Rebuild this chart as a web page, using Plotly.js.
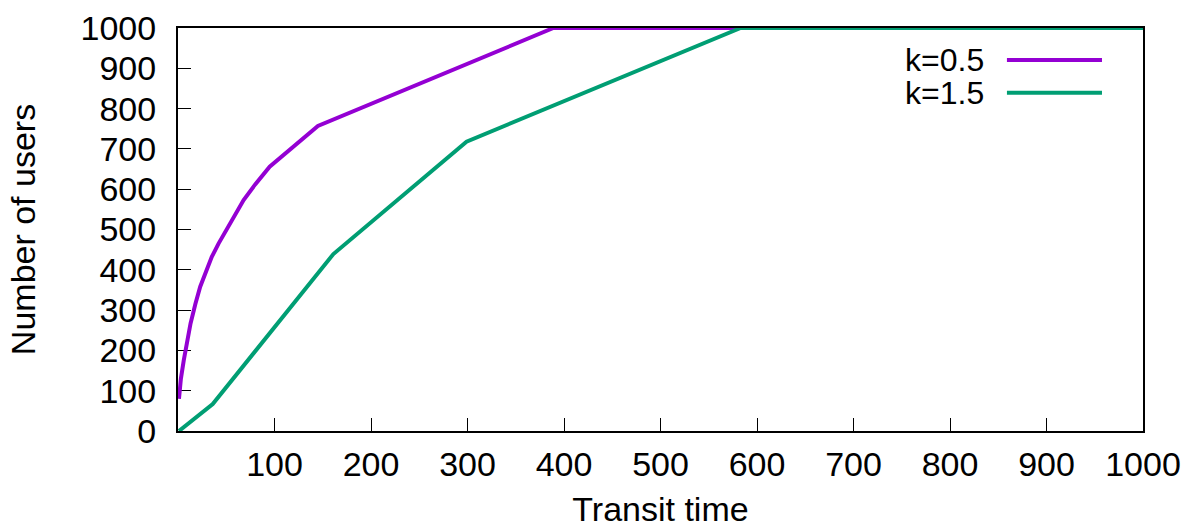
<!DOCTYPE html>
<html>
<head>
<meta charset="utf-8">
<script src="https://cdn.plot.ly/plotly-3.0.1.min.js"></script>
<style>html,body{margin:0;padding:0;background:#fff;}#chart{width:1187px;height:528px;}</style>
</head>
<body>
<div id="chart"></div>
<script>
// Data
const seriesNames = ["k=0.5", "k=1.5"];
const seriesColors = ["#9400D3", "#009E73"];
const k05_x = [1, 3, 6, 9, 13, 18, 23, 29, 35, 42, 49, 58, 68, 80, 95, 145, 389, 1000];
const k05_y = [80, 130, 176, 220, 267, 315, 358, 395, 432, 465, 495, 535, 573, 612, 656, 757, 1000, 1000];
const k15_x = [1, 36, 161, 299, 583, 1000];
const k15_y = [0, 67, 439, 718, 1000, 1000];
const xTicks = [100, 200, 300, 400, 500, 600, 700, 800, 900, 1000];
const yTicks = [0, 100, 200, 300, 400, 500, 600, 700, 800, 900, 1000];

const FONT = "Liberation Sans, Arial, sans-serif";
const FS = 34;
const xs = [k05_x, k15_x], ys = [k05_y, k15_y];

const traces = seriesNames.map((n, i) => ({
  x: xs[i], y: ys[i], name: n, type: "scatter", mode: "lines",
  line: {color: seriesColors[i], width: 4},
  showlegend: false
}));

// gnuplot-style legend: text to the left of the line sample
const legTextX = 0.836, legLineX0 = 0.859, legLineX1 = 0.9575;
const legY = [0.9206, 0.8395];
const annotations = seriesNames.map((n, i) => ({
  xref: "paper", yref: "paper", x: legTextX, y: legY[i],
  xanchor: "right", yanchor: "middle", text: n, showarrow: false,
  borderpad: 0,
  font: {family: FONT, size: 32, color: "#000"}
}));
const shapes = seriesNames.map((n, i) => ({
  type: "line", xref: "paper", yref: "paper",
  x0: legLineX0, x1: legLineX1, y0: legY[i], y1: legY[i],
  line: {color: seriesColors[i], width: 4}
}));

const layout = {
  width: 1187, height: 528,
  margin: {l: 178, r: 44, t: 28, b: 97},
  paper_bgcolor: "#fff", plot_bgcolor: "#fff",
  font: {family: FONT, size: FS, color: "#000"},
  xaxis: {
    range: [0, 1000], tickmode: "array", tickvals: xTicks,
    ticks: "inside", ticklen: 13, tickwidth: 1, tickcolor: "#000",
    showline: true, linecolor: "#000", linewidth: 2, mirror: true,
    showgrid: false, zeroline: false, ticklabelstandoff: 2,
    title: {text: "Transit time", font: {family: FONT, size: FS}, standoff: 31},
    automargin: false, layer: "below traces"
  },
  yaxis: {
    range: [0, 1000], tickmode: "array", tickvals: yTicks,
    ticks: "inside", ticklen: 13, tickwidth: 1, tickcolor: "#000",
    showline: true, linecolor: "#000", linewidth: 2, mirror: true,
    showgrid: false, zeroline: false, ticklabelstandoff: 13,
    title: {text: "Number of users", font: {family: FONT, size: FS}, standoff: 35},
    automargin: false, layer: "below traces"
  },
  annotations: annotations,
  shapes: shapes
};

Plotly.newPlot("chart", traces, layout, {displayModeBar: false, staticPlot: true}).then(gd => {
  // let lines at y=1000 draw over the frame, like the reference
  gd.querySelectorAll("g.plot").forEach(g => g.removeAttribute("clip-path"));
});
</script>
</body>
</html>
